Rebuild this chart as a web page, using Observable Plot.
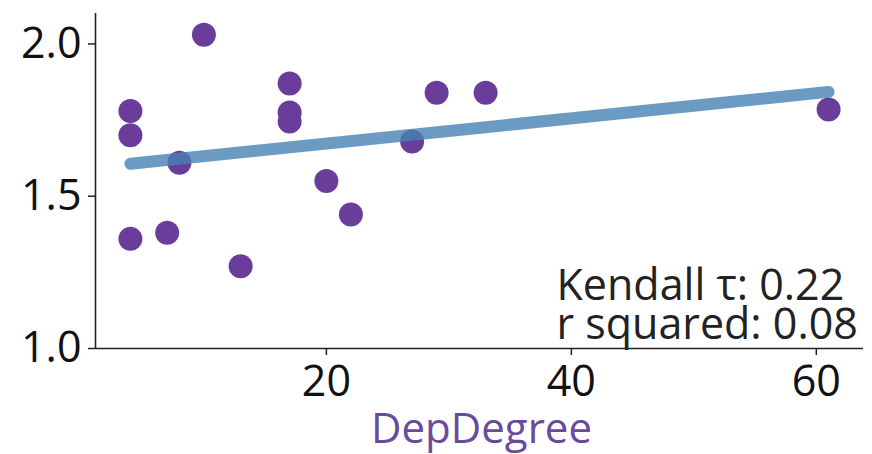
<!DOCTYPE html>
<html>
<head>
<meta charset="utf-8">
<script src="https://cdn.jsdelivr.net/npm/d3@7"></script>
<script src="https://cdn.jsdelivr.net/npm/@observablehq/plot@0.6"></script>
<style>
  html, body { margin: 0; padding: 0; background: #fff; }
  #chart svg { display: block; }
</style>
</head>
<body>
<div id="chart"></div>
<script>
const depDegree = [4, 4, 4, 7, 8, 10, 13, 17, 17, 17, 20, 22, 27, 29, 33, 61];
const values = [1.78, 1.70, 1.36, 1.38, 1.61, 2.03, 1.27, 1.87, 1.775, 1.745, 1.55, 1.44, 1.68, 1.84, 1.84, 1.785];
const xTicks = [20, 40, 60];
const yTicks = [1.0, 1.5, 2.0];
const xLabel = "DepDegree";
const statLines = ["Kendall τ: 0.22", "r squared: 0.08"];

const data = depDegree.map((x, i) => ({x, y: values[i]}));
const xDomain = [1.15, 63.85];
const yDomain = [1.0, 2.1];

const chart = Plot.plot({
  width: 872,
  height: 454,
  marginLeft: 95,
  marginRight: 9,
  marginTop: 13,
  marginBottom: 106,
  style: {fontFamily: "'Open Sans', sans-serif", background: "#fff", color: "#111"},
  x: {domain: xDomain},
  y: {domain: yDomain},
  marks: [
    Plot.axisY({ticks: yTicks, tickFormat: d3.format(".1f"), tickSize: 7, tickPadding: 7, fontSize: 43, label: null, stroke: "#222", strokeWidth: 1.5}),
    Plot.axisX({ticks: xTicks, tickSize: 7, tickPadding: 10, fontSize: 43, label: null, stroke: "#222", strokeWidth: 1.5}),
    Plot.ruleX([xDomain[0]], {stroke: "#222", strokeWidth: 1.6}),
    Plot.ruleY([yDomain[0]], {stroke: "#222", strokeWidth: 1.6}),
    Plot.dot(data, {x: "x", y: "y", r: 12, fill: "#6a3d9a", stroke: "none"}),
    Plot.linearRegressionY(data, {x: "x", y: "y", ci: 0, stroke: "steelblue", strokeOpacity: 0.8, strokeWidth: 12, strokeLinecap: "round"}),
    Plot.text([statLines.join("\n")], {frameAnchor: "bottom-right", textAnchor: "start", lineAnchor: "bottom", lineHeight: 0.9, fontSize: 43, dx: -307, dy: -10, fill: "#222"}),
    Plot.text([xLabel], {frameAnchor: "bottom", lineAnchor: "top", fontSize: 42, dy: 65, dx: 2, fill: "#6b4a9e"})
  ]
});
document.getElementById("chart").appendChild(chart);
</script>
</body>
</html>
